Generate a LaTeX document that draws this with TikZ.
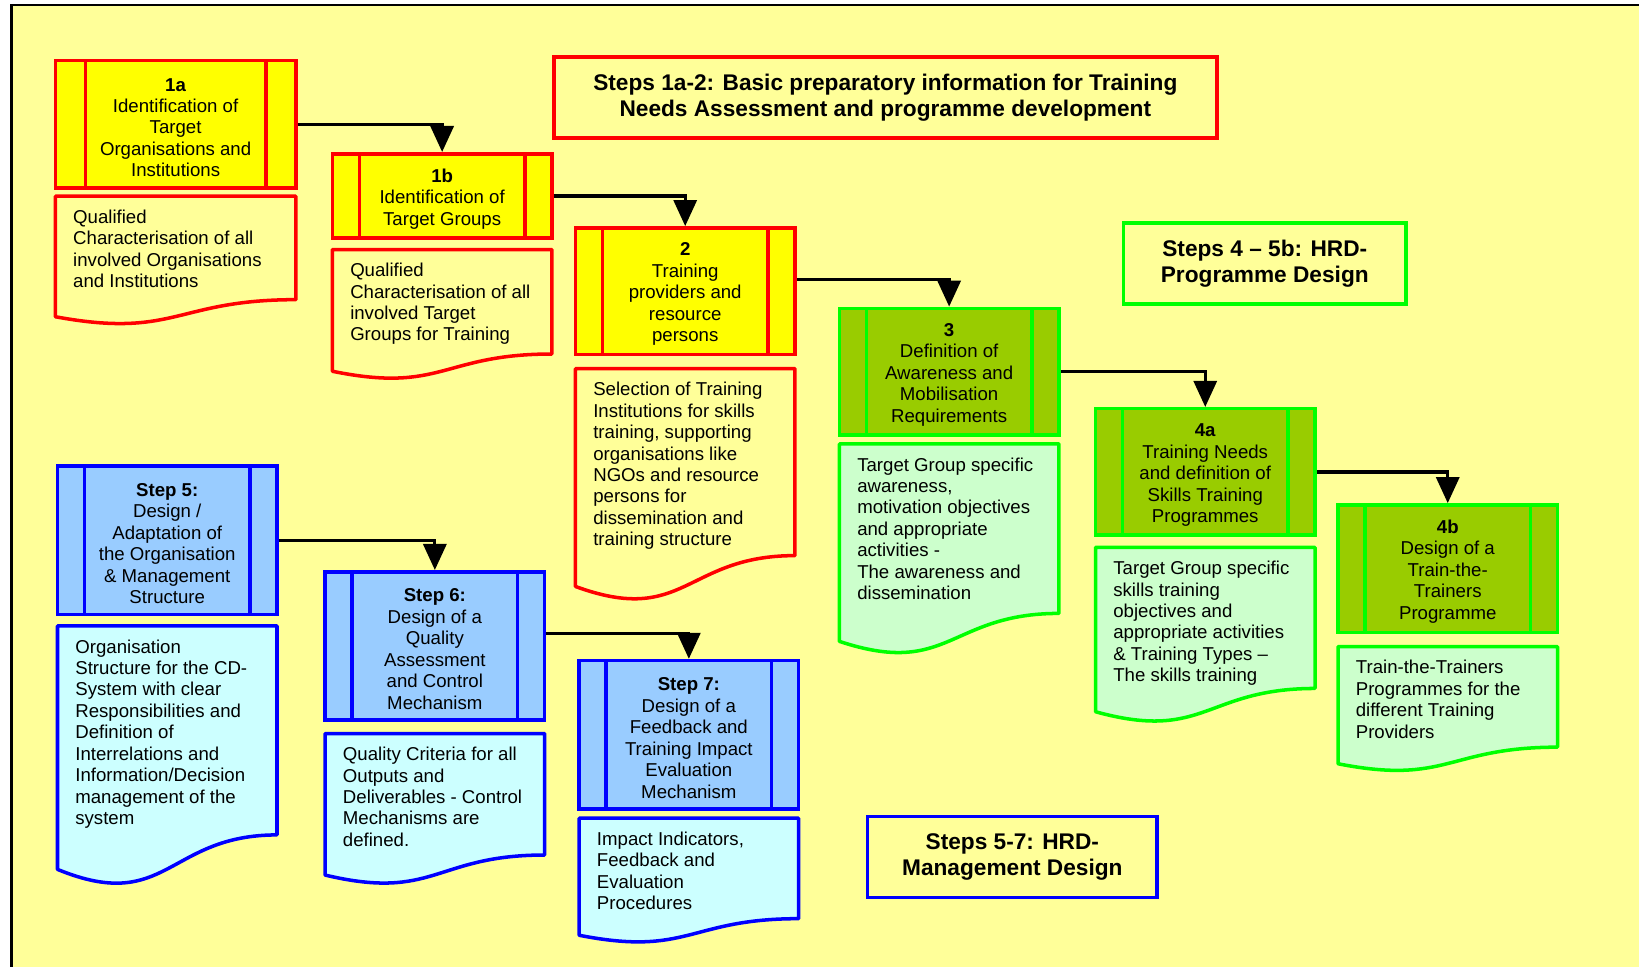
\documentclass[tikz,border=0pt]{standalone}
\usepackage{fontspec}
\setmainfont{Liberation Sans}
\usepackage{tikz}
\usetikzlibrary{arrows.meta, calc, positioning}

\definecolor{BgYellow}{RGB}{255,255,153}
\definecolor{StepRed}{RGB}{255,0,0}
\definecolor{StepGreen}{RGB}{0,255,0}
\definecolor{StepBlue}{RGB}{0,0,255}
\definecolor{FillYellow}{RGB}{255,255,0}
\definecolor{FillOlive}{RGB}{153,204,0}
\definecolor{FillSky}{RGB}{153,204,255}
\definecolor{DocGreen}{RGB}{204,255,204}
\definecolor{DocCyan}{RGB}{204,255,255}

\newcommand{\stepfont}{\fontsize{10.6}{12.2}\selectfont}
\newcommand{\headfont}{\fontsize{12.9}{14.9}\selectfont\bfseries}
\newcommand{\steptitle}[1]{\rule{0pt}{11pt}\textbf{#1}}

% document shape hanging below a step box
\newcommand{\docpart}[6]{%
  % #1 name, #2 step box above, #3 gap, #4 straight height, #5 colours, #6 text
  \coordinate (#1nw) at ($([xshift=1pt]#2.south west)+(0,-#3)$);
  \coordinate (#1ne) at ($([xshift=-1pt]#2.south east)+(0,-#3)$);
  \coordinate (#1se) at ($(#1ne)+(0,-#4)$);
  \coordinate (#1sw) at ($(#1nw)+(0,-#4)$);
  \draw[docline, #5] (#1nw) -- (#1ne) -- (#1se)
    .. controls ($(#1sw)!0.5!(#1se)$) and ($(#1sw)!0.5!(#1se)+(0,-0.38*#4)$)
    .. ($(#1sw)+(0,-0.165*#4)$) -- cycle;
  \node[doctext, anchor=north west] (#1) at ($(#1nw)+(0.35,-0.265)$) {#6};
}

\begin{document}
\begin{tikzpicture}[
  bars/.style 2 args={
    path picture={
      \draw[#1, line width=2pt]
        ([xshift=#2]path picture bounding box.north west) -- ([xshift=#2]path picture bounding box.south west)
        ([xshift=-#2]path picture bounding box.north east) -- ([xshift=-#2]path picture bounding box.south east);
    }
  },
  stepbox/.style={
    rectangle,
    line width=2pt,
    minimum width=4.39cm,
    minimum height=2.53cm,
    inner sep=0pt,
    align=center,
    font=\stepfont
  },
  redstep/.style={stepbox, draw=StepRed, fill=FillYellow, bars={StepRed}{0.54cm}},
  greenstep/.style={stepbox, draw=StepGreen, fill=FillOlive, bars={StepGreen}{0.54cm}},
  bluestep/.style={stepbox, draw=StepBlue, fill=FillSky, bars={StepBlue}{0.54cm}, minimum height=2.97cm},
  headbox/.style={
    rectangle,
    line width=2pt,
    fill=BgYellow,
    minimum height=1.62cm,
    inner sep=0pt,
    align=center,
    font=\headfont
  },
  docline/.style={line width=2pt, line join=round},
  reddoc/.style={draw=StepRed, fill=BgYellow},
  greendoc/.style={draw=StepGreen, fill=DocGreen},
  bluedoc/.style={draw=StepBlue, fill=DocCyan},
  doctext/.style={inner sep=0pt, align=left, font=\stepfont},
  flow/.style={-{Triangle[length=0.52cm, width=0.46cm]}, line width=1.8pt, black}
]

% page and frame
\useasboundingbox (0,0) rectangle (32.78,-19.34);
\fill[white] (0,0) rectangle (32.78,-19.34);
\fill[BgYellow] (0.23,-0.105) rectangle (32.78,-19.34);
\draw[line width=1.4pt] (0.23,-19.34) -- (0.23,-0.105) -- (32.78,-0.105);

% headings
\node[headbox, draw=StepRed, minimum width=13.26cm] (h12) at (17.707,-1.955)
  {Steps 1a-2: Basic preparatory information for Training\\ Needs Assessment and programme development};
\node[headbox, draw=StepGreen, minimum width=5.65cm] (h45) at (25.296,-5.268)
  {Steps 4 -- 5b: HRD-\\ Programme Design};
\node[headbox, draw=StepBlue, minimum width=5.79cm] (h57) at (20.247,-17.143)
  {Steps 5-7: HRD-\\ Management Design};

% steps 1a - 2
\node[redstep, minimum width=4.81cm, minimum height=2.55cm, bars={StepRed}{0.6cm}] (s1a) at (3.512,-2.488)
  {\steptitle{1a}\\ Identification of\\ Target\\ Organisations and\\ Institutions};
\node[redstep, minimum height=1.69cm] (s1b) at (8.843,-3.920)
  {\steptitle{1b}\\ Identification of\\ Target Groups};
\node[redstep] (s2) at (13.704,-5.822)
  {\steptitle{2}\\ Training\\ providers and\\ resource\\ persons};

% steps 3 - 4b
\node[greenstep] (s3) at (18.983,-7.432)
  {\steptitle{3}\\ Definition of\\ Awareness and\\ Mobilisation\\ Requirements};
\node[greenstep] (s4a) at (24.105,-9.439)
  {\steptitle{4a}\\ Training Needs\\ and definition of\\ Skills Training\\ Programmes};
\node[greenstep, minimum height=2.55cm] (s4b) at (28.955,-11.373)
  {\steptitle{4b}\\ Design of a\\ Train-the-\\ Trainers\\ Programme};

% steps 5 - 7
\node[bluestep] (s5) at (3.345,-10.808)
  {\steptitle{Step 5:}\\ Design /\\ Adaptation of\\ the Organisation\\ \& Management\\ Structure};
\node[bluestep] (s6) at (8.697,-12.920)
  {\steptitle{Step 6:}\\ Design of a\\ Quality\\ Assessment\\ and Control\\ Mechanism};
\node[bluestep] (s7) at (13.777,-14.697)
  {\steptitle{Step 7:}\\ Design of a\\ Feedback and\\ Training Impact\\ Evaluation\\ Mechanism};

% results below each step
\docpart{d1a}{s1a}{0.125}{2.07}{reddoc}
  {Qualified\\ Characterisation of all\\ involved Organisations\\ and Institutions}
\docpart{d1b}{s1b}{0.19}{2.09}{reddoc}
  {Qualified\\ Characterisation of all\\ involved Target\\ Groups for Training}
\docpart{d2}{s2}{0.25}{3.74}{reddoc}
  {Selection of Training\\ Institutions for skills\\ training, supporting\\ organisations like\\ NGOs and resource\\ persons for\\ dissemination and\\ training structure}
\docpart{d3}{s3}{0.146}{3.39}{greendoc}
  {Target Group specific\\ awareness,\\ motivation objectives\\ and appropriate\\ activities -\\ The awareness and\\ dissemination}
\docpart{d4a}{s4a}{0.21}{2.82}{greendoc}
  {Target Group specific\\ skills training\\ objectives and\\ appropriate activities\\ \& Training Types --\\ The skills training}
\docpart{d4b}{s4b}{0.25}{2.01}{greendoc}
  {Train-the-Trainers\\ Programmes for the\\ different Training\\ Providers}
\docpart{d5}{s5}{0.19}{4.18}{bluedoc}
  {Organisation\\ Structure for the CD-\\ System with clear\\ Responsibilities and\\ Definition of\\ Interrelations and\\ Information/Decision\\ management of the\\ system}
\docpart{d6}{s6}{0.23}{2.43}{bluedoc}
  {Quality Criteria for all\\ Outputs and\\ Deliverables - Control\\ Mechanisms are\\ defined.}
\docpart{d7}{s7}{0.146}{2.01}{bluedoc}
  {Impact Indicators,\\ Feedback and\\ Evaluation\\ Procedures}

% connectors
\draw[flow] (s1a.east) -| (s1b.north);
\draw[flow] (s1b.east) -| (s2.north);
\draw[flow] ([yshift=0.24cm]s2.east) -| (s3.north);
\draw[flow] (s3.east) -| (s4a.north);
\draw[flow] (s4a.east) -| (s4b.north);
\draw[flow] (s5.east) -| (s6.north);
\draw[flow] ([yshift=0.25cm]s6.east) -| (s7.north);

\end{tikzpicture}
\end{document}
